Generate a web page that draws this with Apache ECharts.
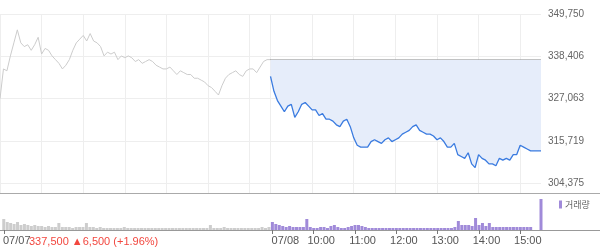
<!DOCTYPE html>
<html><head><meta charset="utf-8">
<script src="https://cdn.jsdelivr.net/npm/echarts@6/dist/echarts.min.js"></script>
<style>html,body{margin:0;padding:0;background:#fff}#c{width:600px;height:248px}</style>
</head><body><div id="c"></div>
<script>
// ---- data (5-minute samples) ----
const dayDates = ['07/07', '07/08'];
const day1Slots = 78;   // 09:00 .. 15:25
const day2Slots = 79;   // 09:00 .. 15:30
// day 1 prices (09:00 .. 15:25) plus close joined at day boundary
const priceDay1 = [327000,335000,334500,338500,342000,345500,342000,341000,341500,340000,
  341500,343500,339000,340500,340000,338500,337500,336500,335000,336000,
  337500,340000,342000,343000,344000,342500,344500,342500,342000,341000,
  338500,339500,339000,339500,337500,338500,338000,338500,338000,337000,
  337500,336500,337000,337500,337000,336000,335500,335000,335000,335500,
  334500,333500,334500,334000,333500,333500,332500,332500,332000,331500,
  330500,330000,329000,328000,330500,332500,333500,334000,334500,333500,
  333000,334500,335000,335000,334000,335500,337000,337500,337500];
// day 2 prices (09:00 .. 15:30)
const priceDay2 = [333000,329000,326500,325000,323500,325000,325500,322000,323500,325500,
  326000,325000,324000,324000,322500,323000,321500,321500,321000,320000,
  319500,321000,321500,319500,316500,314500,314000,314000,314000,315500,
  316000,315500,315000,316000,316500,315500,316000,316500,317500,318000,
  318500,319500,320000,318500,318000,317500,317500,317000,316000,316500,
  315500,314000,314000,315000,312000,311500,311000,312500,309500,308500,
  312000,311000,310500,309500,309500,309000,311000,310500,311000,310500,
  312000,312000,314500,314000,313500,313000,313000,313000,313000];
// volume, thousand shares
const volDay1 = [11,8,7,6,8,5,6,5,4,5, 4,4,3,4,3,3,7,3,3,3, 2,3,3,3,7,3,3,2,3,2,
  2,2,2,2,2,3,2,2,2,2, 2,2,2,2,2,2,2,2,2,2, 2,2,2,2,2,2,2,2,2,2,
  5,2,2,2,3,2,2,2,2,2, 2,2,2,2,2,3,2,3];
const volDay2 = [8,6,5,4,3,4,3,3,3,3, 11,3,2,2,3,3,2,4,5,3, 2,2,3,4,5,5,4,3,2,2,
  2,2,2,2,2,2,2,2,2,2, 2,2,2,2,2,2,2,2,2,2, 2,2,2,3,9,5,5,5,4,12,
  5,7,4,7,3,3,3,3,3,3, 3,3,3,3,3,3,0,0,31];
const refClose = 337500;     // 07/07 close
const refChange = 6500;
const refChangePct = 1.96;
const yMin = 304375, yMax = 349750, yStep = 11343.75;
const volName = '거래량';

function slots(date, n) {
  const out = [];
  for (let k = 0; k < n; k++) {
    const m = 540 + 5 * k;
    out.push(date + ' ' + String(Math.floor(m / 60)).padStart(2, '0') + ':' + String(m % 60).padStart(2, '0'));
  }
  return out;
}
const categories = slots(dayDates[0], day1Slots).concat(slots(dayDates[1], day2Slots));
const N = categories.length;
const grayLine = categories.map((c, i) => i < priceDay1.length ? priceDay1[i] : null);
const blueLine = categories.map((c, i) => i >= day1Slots ? priceDay2[i - day1Slots] : null);
const grayVol = categories.map((c, i) => i < day1Slots ? volDay1[i] : null);
const purpleVol = categories.map((c, i) => i >= day1Slots ? volDay2[i - day1Slots] : null);

const isHour = (i) => categories[i].endsWith(':00');
const isBottomTick = (i) => i === 0 || (i >= day1Slots && isHour(i));
const fmtNum = (v) => Math.round(v).toLocaleString('en-US');

const FONT = 'Liberation Sans, Arial, sans-serif';
const chart = echarts.init(document.getElementById('c'), null, {renderer: 'canvas'});
chart.setOption({
  animation: false,
  title: {
    text: fmtNum(refClose) + ' \u25B2' + fmtNum(refChange) + ' (+' + refChangePct.toFixed(2) + '%)',
    left: 29, top: 236, padding: 0,
    textStyle: {color: '#f2473f', fontSize: 11, fontWeight: 'normal', fontFamily: FONT}
  },
  legend: {
    data: [{name: volName, icon: 'rect'}],
    left: 559, top: 200, padding: 0,
    itemWidth: 3, itemHeight: 8, itemGap: 3,
    textStyle: {color: '#666', fontSize: 9, fontFamily: 'Noto Sans CJK KR', padding: [0,0,0,-2]}
  },
  graphic: [
    {type: 'line', shape: {x1: 0, y1: 193.5, x2: 600, y2: 193.5}, style: {stroke: '#aaa', lineWidth: 1}, silent: true},
    {type: 'line', shape: {x1: 0, y1: 230.5, x2: 600, y2: 230.5}, style: {stroke: '#999', lineWidth: 1}, silent: true}
  ],
  grid: [
    {left: 0, right: 59, top: 14, height: 169},
    {left: 0, right: 59, top: 199, height: 31}
  ],
  xAxis: [
    {
      type: 'category', gridIndex: 0, data: categories, boundaryGap: false,
      axisLine: {show: false},
      axisTick: {show: true, length: 10, interval: (i) => isHour(i), lineStyle: {color: '#eee'}},
      axisLabel: {show: false},
      splitLine: {show: true, interval: (i) => isHour(i), lineStyle: {color: '#eee'}}
    },
    {
      type: 'category', gridIndex: 1, data: categories, boundaryGap: false,
      axisLine: {show: false},
      axisTick: {show: true, length: 4, interval: (i) => isBottomTick(i), lineStyle: {color: '#777'}},
      axisLabel: {
        show: true, interval: (i) => isBottomTick(i), margin: 5,
        color: '#555', fontSize: 11, fontFamily: FONT, align: 'center',
        formatter: (v) => {
          const t = v.split(' ');
          return t[1] === '09:00' ? '{d|' + t[0] + '}' : '{h|' + t[1] + '}';
        },
        rich: {
          d: {fontSize: 11, color: '#555', fontFamily: FONT, padding: [0, 0, 0, 26]},
          h: {fontSize: 11, color: '#555', fontFamily: FONT, padding: [0, 0, 0, 15]}
        }
      },
      splitLine: {show: false}
    }
  ],
  yAxis: [
    {
      type: 'value', gridIndex: 0, position: 'right', min: yMin, max: yMax, interval: yStep,
      axisLine: {show: false}, axisTick: {show: false},
      axisLabel: {margin: 7, color: '#666', fontSize: 10, fontFamily: FONT, formatter: fmtNum},
      splitLine: {show: true, lineStyle: {color: '#eee'}}
    },
    {
      type: 'value', gridIndex: 1, min: 0, max: 'dataMax',
      show: false, splitLine: {show: false}
    }
  ],
  series: [
    {
      name: 'day1', type: 'line', xAxisIndex: 0, yAxisIndex: 0, data: grayLine,
      showSymbol: false, symbol: 'none', lineStyle: {color: '#cccccc', width: 1}
    },
    {
      name: 'day2', type: 'line', xAxisIndex: 0, yAxisIndex: 0, data: blueLine,
      showSymbol: false, symbol: 'none', lineStyle: {color: '#3a7be0', width: 1.3},
      areaStyle: {color: '#e6edfa', origin: refClose, opacity: 1},
      markLine: {
        silent: true, symbol: 'none', label: {show: false},
        lineStyle: {color: '#888', type: 'dotted', width: 1},
        data: [[{coord: [categories[day1Slots], refClose]}, {coord: [categories[N - 1], refClose]}]]
      }
    },
    {
      name: 'vol1', type: 'bar', xAxisIndex: 1, yAxisIndex: 1, data: grayVol,
      barWidth: 3, barGap: '-100%', itemStyle: {color: '#cdcdcd'}
    },
    {
      name: volName, type: 'bar', xAxisIndex: 1, yAxisIndex: 1, data: purpleVol,
      barWidth: 3, barGap: '-100%', itemStyle: {color: '#a08ad9'}
    }
  ]
});
</script></body></html>
